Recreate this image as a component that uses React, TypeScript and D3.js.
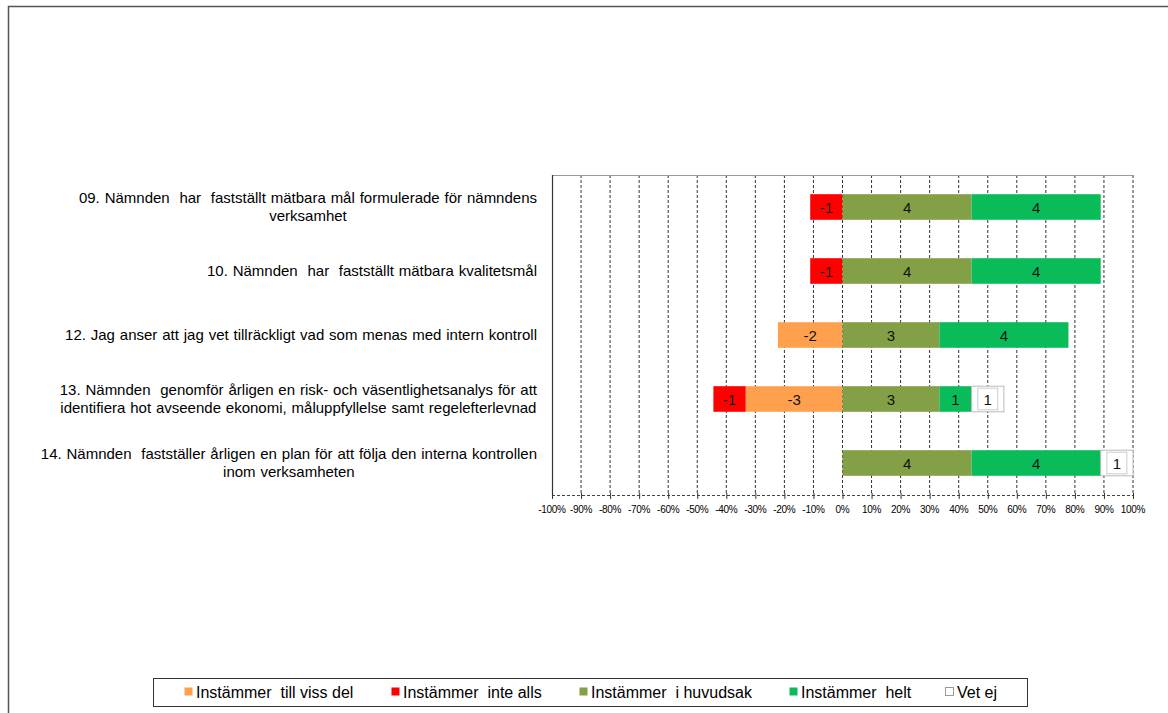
import { useRef, useEffect } from 'react';
import * as d3 from 'd3';

// Svar per påstående (antal personer). Negativa serier ritas till vänster om 0.
const categories = ['09', '10', '12', '13', '14'];
const categoryLines: string[][] = [
  ['09. Nämnden  har  fastställt mätbara mål formulerade för nämndens', 'verksamhet'],
  ['10. Nämnden  har  fastställt mätbara kvalitetsmål'],
  ['12. Jag anser att jag vet tillräckligt vad som menas med intern kontroll'],
  ['13. Nämnden  genomför årligen en risk- och väsentlighetsanalys för att', 'identifiera hot avseende ekonomi, måluppfyllelse samt regelefterlevnad'],
  ['14. Nämnden  fastställer årligen en plan för att följa den interna kontrollen', 'inom verksamheten'],
];

const tillVissDel = [0, 0, -2, -3, 0];
const inteAlls = [-1, -1, 0, -1, 0];
const iHuvudsak = [4, 4, 3, 3, 4];
const helt = [4, 4, 4, 1, 4];
const vetEj = [0, 0, 0, 1, 1];
const respondents = [9, 9, 9, 9, 9];

const xTicks = [-1, -0.9, -0.8, -0.7, -0.6, -0.5, -0.4, -0.3, -0.2, -0.1, 0, 0.1, 0.2, 0.3, 0.4, 0.5, 0.6, 0.7, 0.8, 0.9, 1];

const legendLabels = ['Instämmer  till viss del', 'Instämmer  inte alls', 'Instämmer  i huvudsak', 'Instämmer  helt', 'Vet ej'];

const C = {
  orange: '#FFA04F',
  red: '#FF0000',
  olive: '#83A047',
  green: '#0ABB59',
  white: '#FFFFFF',
};

export default function App() {
  const svgRef = useRef<SVGSVGElement>(null);

  useEffect(() => {
    if (!svgRef.current) return;
    const svg = d3.select(svgRef.current);
    svg.selectAll('*').remove();
    const font = '"Liberation Sans", Arial, sans-serif';

    // outer frame
    svg.append('rect')
      .attr('x', 8.5).attr('y', 6.5).attr('width', 1200).attr('height', 750)
      .attr('fill', '#fff').attr('stroke', '#555').attr('stroke-width', 1.5);

    const left = 552, right = 1133, top = 175, bottom = 495;
    const x = d3.scaleLinear().domain([-1, 1]).range([left, right]);
    const y = d3.scaleBand().domain(categories).range([top, bottom]).paddingInner(0.6).paddingOuter(0.3);

    const g = svg.append('g');

    // gridlines
    g.selectAll('line.grid')
      .data(xTicks.slice(1))
      .enter().append('line')
      .attr('x1', (d) => x(d)).attr('x2', (d) => x(d))
      .attr('y1', top).attr('y2', bottom)
      .attr('stroke', '#333').attr('stroke-width', 1).attr('stroke-dasharray', '3,2');

    // top border and left border
    g.append('line').attr('x1', left).attr('x2', right).attr('y1', top + 0.5).attr('y2', top + 0.5)
      .attr('stroke', '#999').attr('stroke-width', 1.2);
    g.append('line').attr('x1', left + 0.5).attr('x2', left + 0.5).attr('y1', top).attr('y2', bottom)
      .attr('stroke', '#333').attr('stroke-width', 1.2);

    // bottom axis
    g.append('line').attr('x1', left).attr('x2', right).attr('y1', bottom + 0.5).attr('y2', bottom + 0.5)
      .attr('stroke', '#444').attr('stroke-width', 1).attr('stroke-dasharray', '3,2');
    g.selectAll('line.tick')
      .data(xTicks)
      .enter().append('line')
      .attr('x1', (d) => x(d) + 0.5).attr('x2', (d) => x(d) + 0.5)
      .attr('y1', bottom - 2).attr('y2', bottom + 4)
      .attr('stroke', '#333').attr('stroke-width', 1);
    g.selectAll('text.tick')
      .data(xTicks)
      .enter().append('text')
      .attr('x', (d) => x(d)).attr('y', bottom + 18)
      .attr('text-anchor', 'middle')
      .attr('font-family', font).attr('font-size', 10).attr('fill', '#000')
      .attr('letter-spacing', -0.3)
      .text((d) => `${Math.round(d * 100)}%`);

    // bars
    const bh = y.bandwidth();
    categories.forEach((cat, i) => {
      const n = respondents[i];
      const y0 = y(cat)!;
      const segs: { v: number; s: number; e: number; color: string; vet?: boolean }[] = [];
      // negative side: till viss del closest to 0, then inte alls
      let neg = 0;
      if (tillVissDel[i]) { segs.push({ v: tillVissDel[i], s: neg + tillVissDel[i] / n, e: neg, color: C.orange }); neg += tillVissDel[i] / n; }
      if (inteAlls[i]) { segs.push({ v: inteAlls[i], s: neg + inteAlls[i] / n, e: neg, color: C.red }); neg += inteAlls[i] / n; }
      let pos = 0;
      if (iHuvudsak[i]) { segs.push({ v: iHuvudsak[i], s: pos, e: pos + iHuvudsak[i] / n, color: C.olive }); pos += iHuvudsak[i] / n; }
      if (helt[i]) { segs.push({ v: helt[i], s: pos, e: pos + helt[i] / n, color: C.green }); pos += helt[i] / n; }
      if (vetEj[i]) { segs.push({ v: vetEj[i], s: pos, e: pos + vetEj[i] / n, color: C.white, vet: true }); pos += vetEj[i] / n; }

      segs.forEach((sg) => {
        const x0 = x(sg.s), x1 = x(sg.e);
        g.append('rect')
          .attr('x', x0).attr('y', y0).attr('width', x1 - x0).attr('height', bh)
          .attr('fill', sg.color)
          .attr('stroke', sg.vet ? '#bbb' : 'none').attr('stroke-width', 1);
        const cx = (x0 + x1) / 2;
        if (sg.vet) {
          g.append('rect')
            .attr('x', cx - 10).attr('y', y0 + 2).attr('width', 20).attr('height', bh - 4)
            .attr('fill', '#fff').attr('stroke', '#ccc').attr('stroke-width', 1);
        }
        g.append('text')
          .attr('x', cx).attr('y', y0 + bh / 2 + 5.5)
          .attr('text-anchor', 'middle')
          .attr('font-family', font).attr('font-size', 15).attr('fill', '#111')
          .text(String(sg.v));
      });

      // category label, lines centred on each other, block right-aligned
      const lines = categoryLines[i];
      const cy = y0 + bh / 2;
      const lh = 18.5;
      const texts = lines.map((ln, k) =>
        g.append('text')
          .attr('y', cy + 5 + (k - (lines.length - 1) / 2) * lh)
          .attr('font-family', font).attr('font-size', 15).attr('fill', '#000')
          .attr('word-spacing', 0.7)
          .attr('text-anchor', 'middle')
          .style('white-space', 'pre')
          .text(ln)
      );
      const widths = texts.map((t) => (t.node() as SVGTextElement).getComputedTextLength());
      const maxW = Math.max(...widths);
      texts.forEach((t) => t.attr('x', 537 - maxW / 2));
    });

    // legend
    const lg = svg.append('g');
    lg.append('rect').attr('x', 153.5).attr('y', 678.5).attr('width', 874).attr('height', 28)
      .attr('fill', '#fff').attr('stroke', '#333').attr('stroke-width', 1);
    const legendColors = [C.orange, C.red, C.olive, C.green, C.white];
    const legendX = [184, 391, 579, 789, 945];
    legendLabels.forEach((lab, k) => {
      lg.append('rect').attr('x', legendX[k] + 0.5).attr('y', 687.5).attr('width', 8).attr('height', 8)
        .attr('fill', legendColors[k]).attr('stroke', k === 4 ? '#999' : 'none');
      lg.append('text').attr('x', legendX[k] + 12).attr('y', 697.5)
        .attr('font-family', font).attr('font-size', 16).attr('fill', '#000')
        .style('white-space', 'pre')
        .text(lab);
    });
  }, []);

  return (
    <svg
      ref={svgRef}
      width={1168}
      height={713}
      style={{ position: 'absolute', left: 0, top: 0, background: '#fff' }}
    />
  );
}
